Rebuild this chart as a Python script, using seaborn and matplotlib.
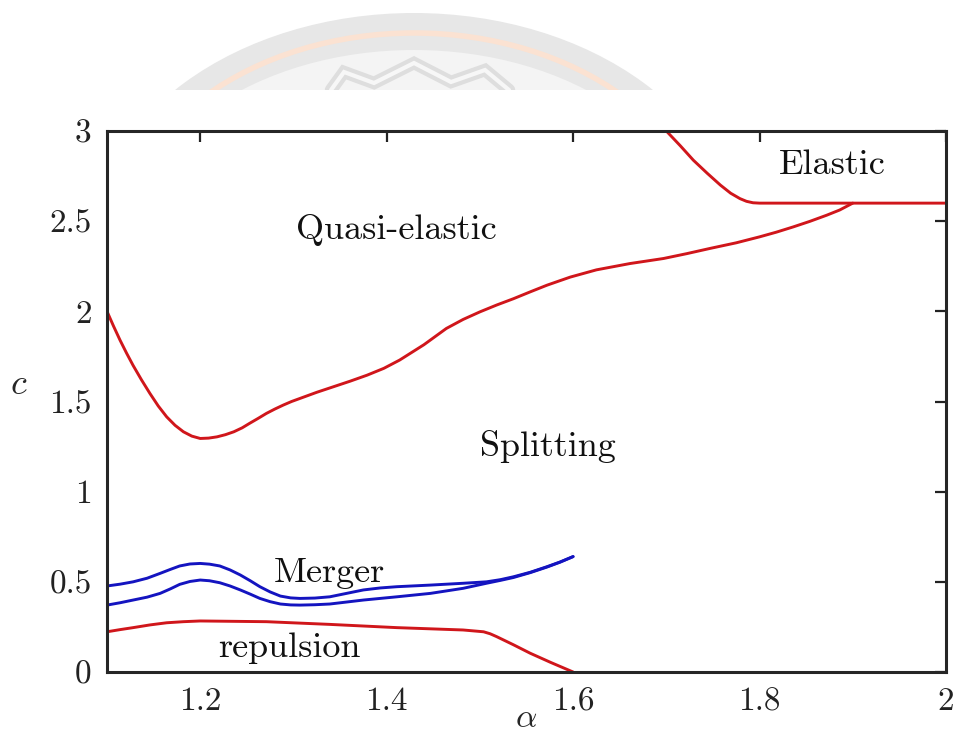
import matplotlib
matplotlib.use("Agg")
import matplotlib.pyplot as plt
from matplotlib.patches import Ellipse
import seaborn as sns
import pandas as pd

# ---- data ----
split_alpha = [1.100, 1.107, 1.114, 1.121, 1.128, 1.137, 1.146, 1.155, 1.164, 1.173, 1.182,
               1.191, 1.200, 1.209, 1.218, 1.227, 1.236, 1.245, 1.253, 1.262,
               1.271, 1.280, 1.289, 1.298, 1.307, 1.325, 1.343, 1.361, 1.379, 1.397,
               1.414, 1.440, 1.464, 1.482, 1.500, 1.518, 1.536, 1.554, 1.572,
               1.597, 1.625, 1.661, 1.697, 1.722, 1.747, 1.775, 1.800, 1.818, 1.836,
               1.854, 1.872, 1.886, 1.900]
split_c = [2.000, 1.918, 1.840, 1.768, 1.700, 1.620, 1.545, 1.475, 1.415, 1.368, 1.332,
           1.308, 1.295, 1.297, 1.304, 1.316, 1.332, 1.354, 1.379, 1.406,
           1.434, 1.458, 1.480, 1.500, 1.517, 1.551, 1.582, 1.613, 1.646, 1.684,
           1.730, 1.815, 1.905, 1.955, 1.997, 2.035, 2.070, 2.108, 2.145,
           2.190, 2.230, 2.265, 2.293, 2.320, 2.349, 2.380, 2.413, 2.439, 2.468,
           2.499, 2.533, 2.562, 2.600]

elastic_alpha = [1.700, 1.715, 1.729, 1.744, 1.758, 1.769, 1.779, 1.786, 1.793, 1.800, 1.900, 2.000]
elastic_c = [3.000, 2.918, 2.838, 2.765, 2.700, 2.655, 2.625, 2.610, 2.602, 2.600, 2.600, 2.600]

merger_up_alpha = [1.100, 1.114, 1.128, 1.143, 1.157, 1.168, 1.178, 1.189, 1.200, 1.210, 1.221,
                   1.232, 1.243, 1.254, 1.264, 1.275, 1.286, 1.297, 1.307, 1.323,
                   1.339, 1.357, 1.375, 1.393, 1.411, 1.447, 1.482, 1.507, 1.522, 1.536,
                   1.554, 1.572, 1.586, 1.600]
merger_up_c = [0.477, 0.487, 0.500, 0.520, 0.547, 0.569, 0.588, 0.599, 0.602, 0.598, 0.588,
               0.566, 0.538, 0.505, 0.473, 0.444, 0.421, 0.411, 0.408, 0.410,
               0.417, 0.436, 0.455, 0.466, 0.473, 0.482, 0.492, 0.500, 0.512, 0.528,
               0.553, 0.584, 0.610, 0.640]
merger_lo_alpha = [1.100, 1.114, 1.128, 1.143, 1.157, 1.168, 1.178, 1.189, 1.200, 1.210, 1.221,
                   1.232, 1.243, 1.254, 1.264, 1.275, 1.286, 1.297, 1.307, 1.323,
                   1.339, 1.357, 1.375, 1.393, 1.411, 1.447, 1.482, 1.507, 1.522, 1.536,
                   1.554, 1.572, 1.586, 1.600]
merger_lo_c = [0.371, 0.384, 0.399, 0.415, 0.436, 0.461, 0.486, 0.502, 0.510, 0.506, 0.495,
               0.477, 0.455, 0.431, 0.408, 0.390, 0.377, 0.372, 0.371, 0.373,
               0.377, 0.388, 0.399, 0.408, 0.417, 0.436, 0.464, 0.492, 0.508, 0.524,
               0.551, 0.582, 0.609, 0.640]

repul_alpha = [1.100, 1.114, 1.128, 1.146, 1.164, 1.182, 1.200, 1.271, 1.339, 1.411,
               1.482, 1.504, 1.511, 1.518, 1.536, 1.554, 1.576, 1.600]
repul_c = [0.223, 0.235, 0.246, 0.261, 0.273, 0.279, 0.283, 0.279, 0.264, 0.246,
           0.233, 0.223, 0.212, 0.196, 0.151, 0.104, 0.053, 0.000]

region_labels = ["Quasi-elastic", "Elastic", "Splitting", "Merger", "repulsion"]
label_alpha = [1.41, 1.878, 1.573, 1.339, 1.296]
label_c = [2.45, 2.81, 1.25, 0.55, 0.13]

xticks = [1.2, 1.4, 1.6, 1.8, 2.0]
xticklabels = ["1.2", "1.4", "1.6", "1.8", "2"]
yticks = [0, 0.5, 1, 1.5, 2, 2.5, 3]
yticklabels = ["0", "0.5", "1", "1.5", "2", "2.5", "3"]

sns.set_theme(style="white")
plt.rcParams["font.family"] = ["cmr10", "DejaVu Serif"]
plt.rcParams["mathtext.fontset"] = "cm"
plt.rcParams["axes.unicode_minus"] = False

fig = plt.figure(figsize=(9.57, 7.33), dpi=100)
ax = fig.add_axes([107/957, 61/733, 839/957, 541/733])

RED = "#d0161b"
BLUE = "#1414c0"

def draw(a, c, color):
    df = pd.DataFrame({"alpha": a, "c": c})
    sns.lineplot(data=df, x="alpha", y="c", ax=ax, color=color, lw=2.1,
                 sort=False, estimator=None)

draw(split_alpha, split_c, RED)
draw(elastic_alpha, elastic_c, RED)
draw(merger_up_alpha, merger_up_c, BLUE)
draw(merger_lo_alpha, merger_lo_c, BLUE)
draw(repul_alpha, repul_c, RED)

for t, a, c in zip(region_labels, label_alpha, label_c):
    ax.text(a, c, t, ha="center", va="center", fontsize=26, color="#111111")

ax.set_xlim(1.1, 2.0)
ax.set_ylim(0, 3)
ax.set_xticks(xticks)
ax.set_xticklabels(xticklabels)
ax.set_yticks(yticks)
ax.set_yticklabels(yticklabels)
ax.tick_params(direction="in", length=8, width=1.6, top=True, right=True,
               labelsize=24, colors="#222222", pad=11)
for s in ax.spines.values():
    s.set_linewidth(2.2)
    s.set_color("#262626")
ax.set_xlabel(r"$\alpha$", fontsize=24, labelpad=-9)
ax.set_ylabel(r"$c$", fontsize=26, rotation=0, labelpad=22)

# faint watermark at the top
wax = fig.add_axes([0, 1 - 90/733, 1, 90/733])
wax.set_xlim(0, 957)
wax.set_ylim(90, 0)
wax.axis("off")
wax.add_patch(Ellipse((414, 250), 2*324, 2*237, facecolor="#e7e7e7", edgecolor="none"))
wax.add_patch(Ellipse((414, 250), 2*296, 2*217, facecolor="none", edgecolor="#fbe2d2", lw=4))
wax.add_patch(Ellipse((414, 250), 2*287, 2*200, facecolor="#f4f4f4", edgecolor="none"))
mx = [331, 344, 374, 414, 451, 485, 509]
my = [90, 72, 83, 63, 82, 70, 90]
wax.plot(mx, my, color="#dedede", lw=9, solid_joinstyle="miter")
wax.plot(mx, my, color="#f7f7f7", lw=3, solid_joinstyle="miter")

fig.savefig("out.png", dpi=100)
